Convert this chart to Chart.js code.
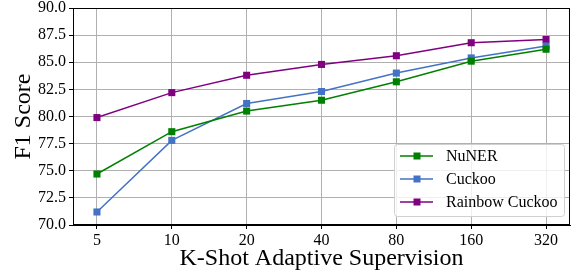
<!DOCTYPE html>
<html>
<head>
<meta charset="utf-8">
<script src="https://cdn.jsdelivr.net/npm/chart.js@4/dist/chart.umd.min.js"></script>
<style>
html,body{margin:0;padding:0;background:#fff;}
#wrap{width:575px;height:273px;position:relative;}
</style>
</head>
<body>
<div id="wrap"><canvas id="c" width="575" height="273"></canvas></div>
<script>
const categories = ["5", "10", "20", "40", "80", "160", "320"];
const nuner = [74.7, 78.6, 80.5, 81.5, 83.2, 85.1, 86.2];
const cuckoo = [71.2, 77.8, 81.2, 82.3, 84.0, 85.4, 86.5];
const rainbow = [79.9, 82.2, 83.8, 84.8, 85.6, 86.8, 87.1];
const seriesNames = ["NuNER", "Cuckoo", "Rainbow Cuckoo"];
const seriesColors = ["#008000", "#4472C4", "#800080"];
const yTicks = [70.0, 72.5, 75.0, 77.5, 80.0, 82.5, 85.0, 87.5, 90.0];

const FONT = "'Liberation Serif', 'Times New Roman', serif";

function toPts(arr){ return arr.map((v,i)=>({x:i, y:v})); }

const allSeries = [nuner, cuckoo, rainbow];
const datasets = allSeries.map((s,k)=>({
  label: seriesNames[k],
  data: toPts(s),
  borderColor: seriesColors[k],
  backgroundColor: seriesColors[k],
  borderWidth: 1.5,
  pointStyle: 'rect',
  pointRadius: 5,
  pointHoverRadius: 5,
  pointBorderWidth: 0,
  tension: 0
}));

const frameLegend = {
  id: 'frameLegend',
  afterDraw(chart){
    const ctx = chart.ctx;
    const a = chart.chartArea;
    ctx.save();
    ctx.strokeStyle = '#000';
    ctx.lineWidth = 1;
    ctx.strokeRect(Math.round(a.left)+0.5, Math.round(a.top)+0.5, Math.round(a.right-a.left)-1, Math.round(a.bottom-a.top)-1);
    // legend box
    const bx = 394, by = 144, bw = 170, bh = 72;
    ctx.fillStyle = 'rgba(255,255,255,0.8)';
    ctx.strokeStyle = '#d0d0d0';
    ctx.beginPath();
    if (ctx.roundRect) ctx.roundRect(bx+0.5, by+0.5, bw, bh, 3); else ctx.rect(bx+0.5, by+0.5, bw, bh);
    ctx.fill(); ctx.stroke();
    ctx.font = "16px " + FONT;
    ctx.textBaseline = 'middle';
    chart.data.datasets.forEach((ds,i)=>{
      const y = 156 + i*23;
      ctx.strokeStyle = ds.borderColor;
      ctx.lineWidth = 1.5;
      ctx.beginPath(); ctx.moveTo(400, y); ctx.lineTo(433, y); ctx.stroke();
      ctx.fillStyle = ds.backgroundColor;
      ctx.fillRect(413.5, y-3.5, 7, 7);
      ctx.fillStyle = '#000';
      ctx.fillText(ds.label, 446, y+1);
    });
    ctx.restore();
  }
};

new Chart(document.getElementById('c'), {
  type: 'line',
  data: { datasets },
  options: {
    responsive: false,
    animation: false,
    devicePixelRatio: 1,
    layout: { padding: { left: 0, right: 2, top: 8, bottom: 0 } },
    plugins: { legend: { display: false }, tooltip: { enabled: false } },
    scales: {
      x: {
        type: 'linear',
        min: -0.32, max: 6.32,
        afterBuildTicks(scale){ scale.ticks = categories.map((c,i)=>({value:i})); },
        ticks: {
          callback: (v)=>categories[v],
          color: '#000',
          font: { family: FONT, size: 16 },
          padding: 2,
          maxRotation: 0
        },
        grid: { color: '#b0b0b0', lineWidth: 1, tickColor: '#000', tickLength: 4 },
        border: { color: '#000', width: 1 },
        title: { display: true, text: 'K-Shot Adaptive Supervision', color: '#000', font: { family: FONT, size: 24 }, padding: { top: 0, bottom: 0 } },
        afterFit(scale){ scale.height = 48; scale.paddingLeft = 0; scale.paddingRight = 0; }
      },
      y: {
        min: 70, max: 90,
        afterBuildTicks(scale){ scale.ticks = yTicks.map(v=>({value:v})); },
        ticks: {
          callback: (v)=>v.toFixed(1),
          color: '#000',
          font: { family: FONT, size: 16 },
          padding: 3
        },
        grid: { color: '#b0b0b0', lineWidth: 1, tickColor: '#000', tickLength: 4 },
        border: { color: '#000', width: 1 },
        title: { display: true, text: 'F1 Score', color: '#000', font: { family: FONT, size: 24 }, padding: { top: 9, bottom: 0 } },
        afterFit(scale){ scale.width = 73; scale.paddingTop = 0; scale.paddingBottom = 0; }
      }
    }
  },
  plugins: [frameLegend]
});
</script>
</body>
</html>
